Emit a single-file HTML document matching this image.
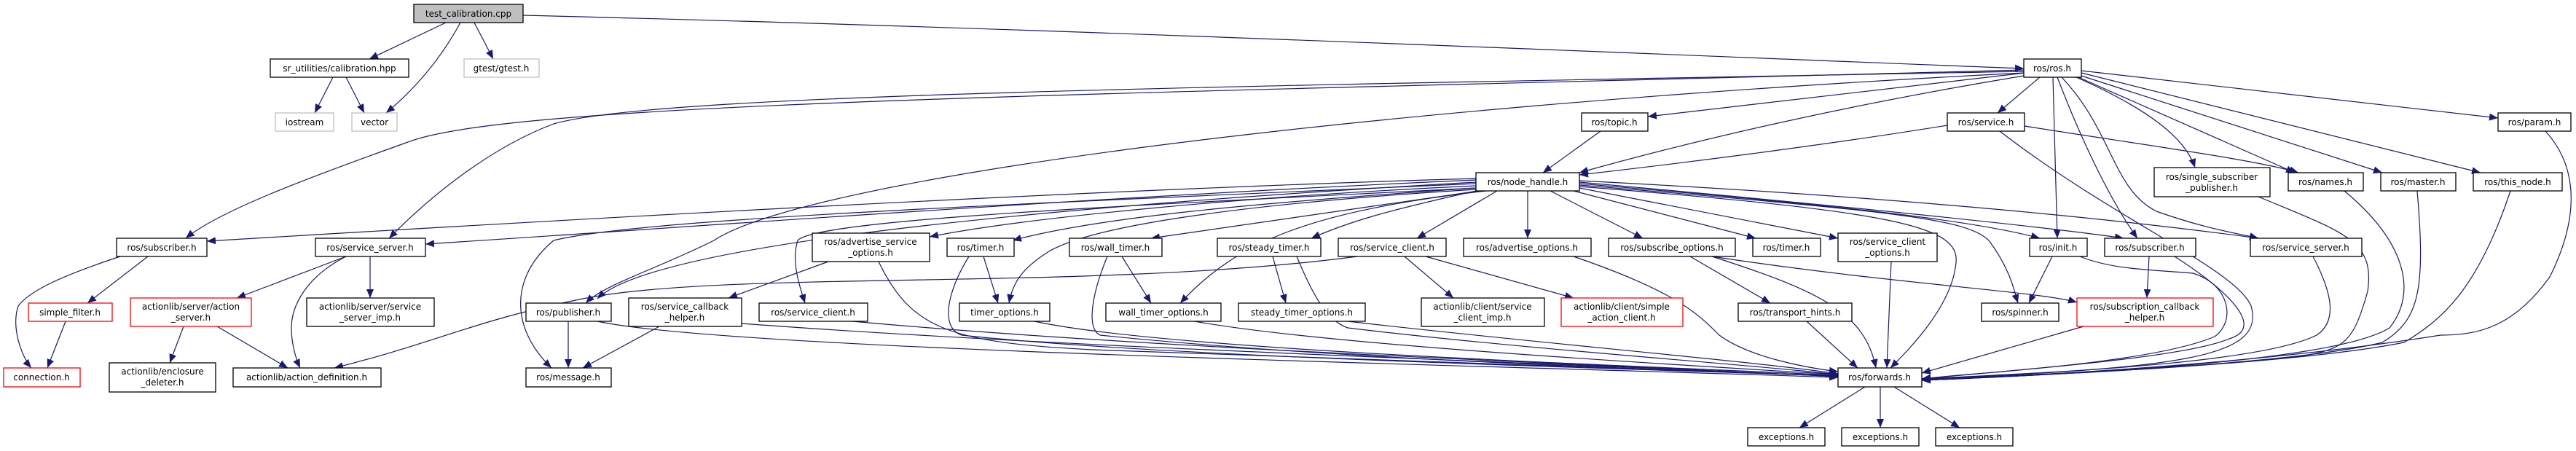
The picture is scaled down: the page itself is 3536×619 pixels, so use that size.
<!DOCTYPE html>
<html><head><meta charset="utf-8"><style>
html,body{margin:0;padding:0;background:#fff;}
svg{display:block;}
text{font-family:"DejaVu Sans","Liberation Sans",sans-serif;font-size:12px;fill:#000;text-anchor:middle;}
.e{fill:none;stroke:#191970;stroke-width:1.2;marker-end:url(#a);}
.n{fill:#fff;stroke:#000;stroke-width:1.3;}
.g{fill:#fff;stroke:#bfbfbf;stroke-width:1.3;}
.r{fill:#fff;stroke:#ff0000;stroke-width:1.3;}
</style></head><body>
<svg width="3536" height="619" viewBox="0 0 3536 619" xmlns="http://www.w3.org/2000/svg">
<defs><marker id="a" markerUnits="userSpaceOnUse" markerWidth="12" markerHeight="10" refX="12" refY="5" orient="auto"><path d="M0,0 L12,5 L0,10 z" fill="#191970"/></marker></defs>
<g>
<path class="e" d="M612,31 L507,81"/>
<path class="e" d="M632,31 C600,90 560,130 530,155"/>
<path class="e" d="M651,31 L677,81"/>
<path class="e" d="M718,21 C1500,40 2400,80 2778,94"/>
<path class="e" d="M457,106 L432,155"/>
<path class="e" d="M475,106 L500,155"/>
<path class="e" d="M2778,96 C1500,130 700,140 560,195 C420,245 300,290 255,327"/>
<path class="e" d="M2778,98 C1600,120 900,130 760,170 C680,200 600,260 534,327"/>
<path class="e" d="M2780,100 L2262,160"/>
<path class="e" d="M2800,106 L2742,155"/>
<path class="e" d="M2778,104 C2500,150 2300,200 2168,237"/>
<path class="e" d="M2850,106 C2950,150 3000,190 3013,230"/>
<path class="e" d="M2853,106 L3150,237"/>
<path class="e" d="M2857,104 L3270,237"/>
<path class="e" d="M2857,100 L3405,237"/>
<path class="e" d="M2857,97 L3429,162"/>
<path class="e" d="M2818,106 L2824,327"/>
<path class="e" d="M2824,106 C2860,200 2900,280 2934,327"/>
<path class="e" d="M2830,106 C2900,180 2900,260 2960,290 C3030,315 3080,322 3100,327"/>
<path class="e" d="M2778,100 C1800,150 1100,250 980,330 C900,370 830,390 804,416"/>
<path class="e" d="M2197,180 L2118,237"/>
<path class="e" d="M2673,172 C2500,200 2300,225 2168,240"/>
<path class="e" d="M2779,173 C2950,200 3100,220 3155,237"/>
<path class="e" d="M2745,180 C2900,300 3070,370 3090,420 C3110,490 3000,505 2638,520"/>
<path class="e" d="M2026,245 C1500,260 800,300 284,331"/>
<path class="e" d="M2026,247 C1500,270 900,315 584,335"/>
<path class="e" d="M2026,250 C1500,280 900,330 820,410"/>
<path class="e" d="M2026,252 C1400,280 880,300 760,330 C700,380 700,450 757,505"/>
<path class="e" d="M2026,255 C1700,270 1400,300 1276,325"/>
<path class="e" d="M2026,258 C1700,280 1500,300 1390,330"/>
<path class="e" d="M2026,260 C1700,280 1500,310 1440,345 C1400,370 1390,390 1385,416"/>
<path class="e" d="M2030,262 L1580,327"/>
<path class="e" d="M2040,262 C1800,290 1700,330 1620,416"/>
<path class="e" d="M2026,262 C1900,290 1850,305 1800,327"/>
<path class="e" d="M2055,262 L1945,327"/>
<path class="e" d="M2097,262 L2097,327"/>
<path class="e" d="M2128,262 L2255,327"/>
<path class="e" d="M2160,262 L2410,327"/>
<path class="e" d="M2168,258 L2523,327"/>
<path class="e" d="M2168,252 C2500,280 2700,300 2800,327"/>
<path class="e" d="M2168,250 C2500,280 2800,310 2915,327"/>
<path class="e" d="M2168,248 C2600,270 2900,300 3100,327"/>
<path class="e" d="M2168,254 C2600,290 2700,300 2730,330 C2760,370 2765,400 2770,416"/>
<path class="e" d="M2168,256 C2600,290 2690,310 2685,360 C2680,420 2620,480 2595,505"/>
<path class="e" d="M2026,258 C1600,280 1120,300 1095,330 C1085,360 1100,400 1105,416"/>
<path class="e" d="M2320,352 L2430,416"/>
<path class="e" d="M2350,352 C2500,400 2560,430 2575,505"/>
<path class="e" d="M2350,352 C2600,390 2800,400 2851,415"/>
<path class="e" d="M2596,359 L2590,505"/>
<path class="e" d="M2480,441 L2550,505"/>
<path class="e" d="M2860,448 L2638,512"/>
<path class="e" d="M2950,352 L2947,409"/>
<path class="e" d="M2985,352 C3060,400 3110,450 3060,465 C3000,490 2800,505 2638,520"/>
<path class="e" d="M2817,352 L2785,416"/>
<path class="e" d="M2855,352 C2900,370 2950,370 3010,375 C3060,390 3070,440 3040,462 C2950,500 2700,512 2638,520"/>
<path class="e" d="M3175,352 C3200,400 3210,440 3180,460 C3100,500 2800,512 2638,520"/>
<path class="e" d="M3100,270 C3220,320 3260,330 3250,400 C3230,470 3220,480 3150,490 C2950,510 2750,515 2638,521"/>
<path class="e" d="M3218,262 C3300,330 3320,400 3280,450 C3200,500 2800,515 2638,522"/>
<path class="e" d="M3318,262 C3330,400 3320,440 3270,470 C3150,500 2800,515 2638,522"/>
<path class="e" d="M3446,262 C3400,400 3350,440 3300,470 C3150,500 2800,515 2638,522"/>
<path class="e" d="M3494,180 C3540,230 3540,300 3500,380 C3450,450 3400,460 3350,460 C3100,500 2800,515 2638,522"/>
<path class="e" d="M2560,531 L2470,587"/>
<path class="e" d="M2581,531 L2581,587"/>
<path class="e" d="M2600,531 L2690,587"/>
<path class="e" d="M2160,352 C2300,400 2330,430 2360,460 C2400,490 2480,505 2523,510"/>
<path class="e" d="M1928,352 L1995,409"/>
<path class="e" d="M1957,352 L2160,409"/>
<path class="e" d="M1863,352 C1500,400 1000,370 800,410 C650,440 600,470 459,505"/>
<path class="e" d="M1137,359 L1000,409"/>
<path class="e" d="M1206,359 C1250,450 1300,470 1500,480 C2000,500 2400,510 2523,516"/>
<path class="e" d="M905,448 L800,505"/>
<path class="e" d="M1018,444 C1500,480 2200,500 2523,517"/>
<path class="e" d="M780,441 L780,505"/>
<path class="e" d="M820,441 C1000,480 2000,500 2523,518"/>
<path class="e" d="M1350,352 L1370,416"/>
<path class="e" d="M1330,352 C1300,400 1290,450 1320,460 C1600,490 2200,505 2523,516"/>
<path class="e" d="M1540,352 L1580,416"/>
<path class="e" d="M1520,352 C1500,400 1490,450 1510,460 C1800,490 2200,505 2523,516"/>
<path class="e" d="M1747,352 L1765,416"/>
<path class="e" d="M1780,352 C1800,400 1820,440 1850,450 C2100,480 2400,500 2523,514"/>
<path class="e" d="M1420,441 C1600,480 2200,500 2523,515"/>
<path class="e" d="M1640,441 C1800,470 2200,495 2523,514"/>
<path class="e" d="M1850,441 C2100,470 2400,495 2523,513"/>
<path class="e" d="M1170,441 C1600,480 2200,500 2523,517"/>
<path class="e" d="M203,352 L120,416"/>
<path class="e" d="M165,352 C80,380 40,400 25,420 C15,450 30,490 43,505"/>
<path class="e" d="M90,441 L65,505"/>
<path class="e" d="M475,352 L325,409"/>
<path class="e" d="M475,352 C420,380 400,420 400,450 C400,470 405,490 412,505"/>
<path class="e" d="M508,352 L508,409"/>
<path class="e" d="M252,448 L233,498"/>
<path class="e" d="M298,448 L395,505"/>
</g>
<g>
<rect x="568" y="6" width="150" height="25" fill="#bfbfbf" stroke="#000" stroke-width="1.3"/><text x="643" y="23">test_calibration.cpp</text>
<rect class="n" x="371" y="81" width="190" height="25"/><text x="466" y="98">sr_utilities/calibration.hpp</text>
<rect class="g" x="637" y="81" width="103" height="25"/><text x="688" y="98">gtest/gtest.h</text>
<rect class="n" x="2778" y="81" width="79" height="25"/><text x="2817" y="98">ros/ros.h</text>
<rect class="g" x="378" y="155" width="80" height="25"/><text x="418" y="172">iostream</text>
<rect class="g" x="483" y="155" width="62" height="25"/><text x="514" y="172">vector</text>
<rect class="n" x="2171" y="155" width="91" height="25"/><text x="2216" y="172">ros/topic.h</text>
<rect class="n" x="2673" y="155" width="106" height="25"/><text x="2726" y="172">ros/service.h</text>
<rect class="n" x="3429" y="155" width="100" height="25"/><text x="3479" y="172">ros/param.h</text>
<rect class="n" x="2026" y="237" width="142" height="25"/><text x="2097" y="254">ros/node_handle.h</text>
<rect class="n" x="2957" y="230" width="159" height="40"/><text x="3036" y="247">ros/single_subscriber</text><text x="3036" y="262">_publisher.h</text>
<rect class="n" x="3141" y="237" width="103" height="25"/><text x="3192" y="254">ros/names.h</text>
<rect class="n" x="3268" y="237" width="103" height="25"/><text x="3319" y="254">ros/master.h</text>
<rect class="n" x="3395" y="237" width="122" height="25"/><text x="3456" y="254">ros/this_node.h</text>
<rect class="n" x="160" y="327" width="124" height="25"/><text x="222" y="344">ros/subscriber.h</text>
<rect class="n" x="433" y="327" width="151" height="25"/><text x="508" y="344">ros/service_server.h</text>
<rect class="n" x="1115" y="320" width="161" height="39"/><text x="1195" y="336">ros/advertise_service</text><text x="1195" y="351">_options.h</text>
<rect class="n" x="1300" y="327" width="92" height="25"/><text x="1346" y="344">ros/timer.h</text>
<rect class="n" x="1468" y="327" width="127" height="25"/><text x="1531" y="344">ros/wall_timer.h</text>
<rect class="n" x="1671" y="327" width="142" height="25"/><text x="1742" y="344">ros/steady_timer.h</text>
<rect class="n" x="1837" y="327" width="148" height="25"/><text x="1911" y="344">ros/service_client.h</text>
<rect class="n" x="2009" y="327" width="175" height="25"/><text x="2096" y="344">ros/advertise_options.h</text>
<rect class="n" x="2208" y="327" width="174" height="25"/><text x="2295" y="344">ros/subscribe_options.h</text>
<rect class="n" x="2406" y="327" width="93" height="25"/><text x="2452" y="344">ros/timer.h</text>
<rect class="n" x="2523" y="320" width="136" height="39"/><text x="2591" y="336">ros/service_client</text><text x="2591" y="351">_options.h</text>
<rect class="n" x="2786" y="327" width="79" height="25"/><text x="2825" y="344">ros/init.h</text>
<rect class="n" x="2889" y="327" width="125" height="25"/><text x="2951" y="344">ros/subscriber.h</text>
<rect class="n" x="3089" y="327" width="153" height="25"/><text x="3165" y="344">ros/service_server.h</text>
<rect class="r" x="39" y="416" width="115" height="25"/><text x="96" y="433">simple_filter.h</text>
<rect class="r" x="179" y="409" width="166" height="39"/><text x="262" y="425">actionlib/server/action</text><text x="262" y="440">_server.h</text>
<rect class="n" x="421" y="409" width="175" height="39"/><text x="508" y="425">actionlib/server/service</text><text x="508" y="440">_server_imp.h</text>
<rect class="n" x="722" y="416" width="117" height="25"/><text x="780" y="433">ros/publisher.h</text>
<rect class="n" x="863" y="409" width="155" height="39"/><text x="940" y="425">ros/service_callback</text><text x="940" y="440">_helper.h</text>
<rect class="n" x="1042" y="416" width="149" height="25"/><text x="1116" y="433">ros/service_client.h</text>
<rect class="n" x="1317" y="416" width="124" height="25"/><text x="1379" y="433">timer_options.h</text>
<rect class="n" x="1518" y="416" width="158" height="25"/><text x="1597" y="433">wall_timer_options.h</text>
<rect class="n" x="1700" y="416" width="174" height="25"/><text x="1787" y="433">steady_timer_options.h</text>
<rect class="n" x="1951" y="409" width="169" height="39"/><text x="2035" y="425">actionlib/client/service</text><text x="2035" y="440">_client_imp.h</text>
<rect class="r" x="2143" y="409" width="167" height="39"/><text x="2226" y="425">actionlib/client/simple</text><text x="2226" y="440">_action_client.h</text>
<rect class="n" x="2386" y="416" width="156" height="25"/><text x="2464" y="433">ros/transport_hints.h</text>
<rect class="n" x="2720" y="416" width="106" height="25"/><text x="2773" y="433">ros/spinner.h</text>
<rect class="r" x="2851" y="409" width="187" height="39"/><text x="2944" y="425">ros/subscription_callback</text><text x="2944" y="440">_helper.h</text>
<rect class="r" x="5" y="505" width="105" height="26"/><text x="57" y="522">connection.h</text>
<rect class="n" x="150" y="498" width="146" height="40"/><text x="223" y="514">actionlib/enclosure</text><text x="223" y="529">_deleter.h</text>
<rect class="n" x="320" y="505" width="203" height="26"/><text x="421" y="522">actionlib/action_definition.h</text>
<rect class="n" x="722" y="505" width="117" height="26"/><text x="780" y="522">ros/message.h</text>
<rect class="n" x="2523" y="505" width="115" height="26"/><text x="2580" y="522">ros/forwards.h</text>
<rect class="n" x="2399" y="587" width="106" height="25"/><text x="2452" y="604">exceptions.h</text>
<rect class="n" x="2528" y="587" width="106" height="25"/><text x="2581" y="604">exceptions.h</text>
<rect class="n" x="2657" y="587" width="106" height="25"/><text x="2710" y="604">exceptions.h</text>
</g>
</svg>
</body></html>
